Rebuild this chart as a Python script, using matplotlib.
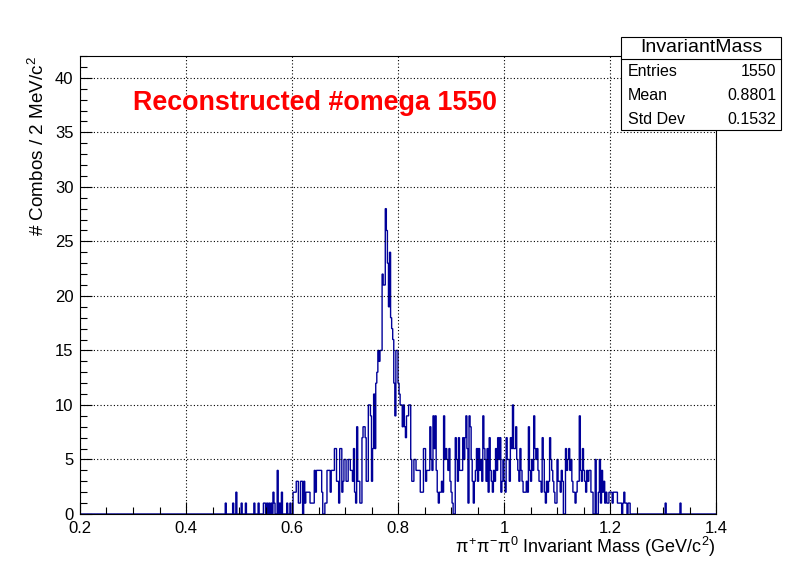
import numpy as np
import matplotlib
matplotlib.use("Agg")
import matplotlib.pyplot as plt
from matplotlib.patches import Rectangle
from matplotlib.lines import Line2D
from matplotlib.ticker import MultipleLocator, FixedLocator

plt.rcParams['font.family'] = ['Liberation Sans', 'DejaVu Sans']
plt.rcParams['mathtext.fontset'] = 'custom'
plt.rcParams['mathtext.rm'] = 'Liberation Sans'
plt.rcParams['mathtext.it'] = 'Liberation Sans'
plt.rcParams['mathtext.bf'] = 'Liberation Sans:bold'

# ---------------- data ----------------
x_min, x_max, bin_width = 0.2, 1.4, 0.002
y_max = 42

# counts per 2 MeV bin, starting at 0.46 GeV
counts_046_060 = [
    0, 0, 0, 0, 0, 0, 0, 1, 0, 0,
    0, 0, 0, 0, 1, 0, 0, 2, 0, 0,
    0, 0, 1, 0, 0, 0, 1, 0, 0, 0,
    0, 0, 0, 0, 1, 0, 0, 0, 1, 0,
    0, 0, 0, 1, 1, 0, 1, 0, 1, 0,
    1, 0, 2, 1, 0, 0, 4, 0, 1, 0,
    2, 0, 0, 0, 0, 1, 0, 0, 1, 0,
]
counts_060_080 = [
    0, 2, 2, 2, 3, 3, 1, 1, 3, 3,
    0, 3, 1, 2, 2, 2, 2, 1, 1, 1,
    1, 4, 2, 4, 4, 4, 4, 4, 2, 0,
    0, 1, 1, 4, 4, 4, 2, 4, 4, 4,
    6, 6, 3, 3, 1, 6, 6, 2, 3, 5,
    5, 3, 3, 5, 5, 4, 4, 3, 6, 2,
    1, 8, 3, 3, 1, 1, 7, 8, 8, 7,
    3, 3, 10, 10, 9, 3, 6, 11, 6, 12,
    13, 15, 14, 15, 15, 22, 21, 21, 28, 26,
    23, 19, 24, 18, 17, 16, 12, 9, 15, 15,
]
counts_080_100 = [
    12, 11, 10, 10, 8, 10, 8, 7, 9, 9,
    10, 10, 5, 3, 3, 5, 5, 4, 4, 4,
    4, 2, 2, 2, 6, 6, 3, 4, 4, 4,
    8, 5, 4, 9, 6, 9, 4, 2, 1, 2,
    2, 3, 2, 9, 5, 6, 5, 4, 6, 3,
    2, 1, 0, 0, 7, 5, 3, 7, 4, 4,
    4, 7, 5, 7, 9, 6, 1, 9, 8, 5,
    3, 1, 3, 4, 6, 3, 6, 4, 5, 3,
    9, 6, 5, 3, 6, 2, 7, 4, 3, 2,
    4, 3, 6, 4, 7, 5, 7, 2, 3, 5,
]
counts_100_124 = [
    3, 2, 7, 5, 5, 3, 7, 6, 10, 6,
    6, 8, 5, 4, 3, 6, 4, 3, 2, 2,
    2, 3, 2, 8, 4, 3, 5, 4, 9, 6,
    5, 6, 4, 3, 3, 2, 7, 5, 2, 1,
    3, 2, 3, 7, 5, 4, 3, 2, 1, 1,
    5, 3, 3, 2, 4, 3, 0, 0, 6, 4,
    5, 6, 4, 5, 3, 2, 2, 1, 2, 3,
    3, 9, 4, 3, 6, 4, 3, 2, 4, 3,
    4, 4, 2, 2, 0, 0, 5, 0, 0, 2,
    5, 1, 4, 2, 3, 1, 2, 1, 1, 2,
    2, 2, 1, 2, 2, 2, 2, 1, 1, 1,
    1, 0, 1, 2, 1, 1, 0, 1, 1, 0,
]
filled_start = 0.46
tail_bin_starts = [1.304, 1.332]   # isolated single entries
tail_counts = [1, 1]

x_tick_values = [0.2, 0.4, 0.6, 0.8, 1.0, 1.2, 1.4]
x_tick_labels = ["0.2", "0.4", "0.6", "0.8", "1", "1.2", "1.4"]
y_tick_values = [0, 5, 10, 15, 20, 25, 30, 35, 40]

title_text = "Reconstructed #omega 1550"
stat_title = "InvariantMass"
stat_rows = [("Entries", "1550"), ("Mean", "0.8801"), ("Std Dev", "0.1532")]

# ---------------- build histogram ----------------
n_bins = int(round((x_max - x_min) / bin_width))
edges = np.linspace(x_min, x_max, n_bins + 1)
counts = np.zeros(n_bins)
filled = np.array(counts_046_060 + counts_060_080 + counts_080_100 + counts_100_124, dtype=float)
i0 = int(round((filled_start - x_min) / bin_width))
counts[i0:i0 + len(filled)] = filled
for s, c in zip(tail_bin_starts, tail_counts):
    counts[int(round((s - x_min) / bin_width))] += c

# ---------------- figure ----------------
W, H = 796, 572
fig = plt.figure(figsize=(W / 100, H / 100), dpi=100)
fig.patch.set_facecolor('white')

def fx(px):
    return px / W

def fy(py):
    return 1 - py / H

ax = fig.add_axes([fx(80), fy(514), fx(716) - fx(80), fy(56) - fy(514)])
ax.stairs(counts, edges, color='#000099', lw=1.0, baseline=0)
ax.set_xlim(x_min, x_max)
ax.set_ylim(0, y_max)

ax.xaxis.set_major_locator(FixedLocator(x_tick_values))
ax.set_xticklabels(x_tick_labels)
ax.xaxis.set_minor_locator(MultipleLocator(0.05))
ax.yaxis.set_major_locator(FixedLocator(y_tick_values))
ax.yaxis.set_minor_locator(MultipleLocator(1))

ax.tick_params(which='both', direction='in', top=False, right=False, width=0.8, labelsize=12)
ax.tick_params(which='major', length=8.5)
ax.tick_params(which='minor', length=4.7)
ax.tick_params(axis='x', which='major', pad=5)
ax.tick_params(axis='y', which='major', pad=4.8)

ax.grid(True, which='major', color='black', linestyle=(0, (1, 2)), lw=0.8)
ax.set_axisbelow(False)
for sp in ax.spines.values():
    sp.set_linewidth(0.8)

# axis titles
fig.text(fx(716), fy(547), r'$\pi^{+}\pi^{-}\pi^{0}$ Invariant Mass (GeV/c$^{2}$)',
         ha='right', va='center', fontsize=13)
fig.text(fx(38), fy(56), r'# Combos / 2 MeV/c$^{2}$', rotation=90,
         ha='center', va='top', fontsize=13.6)

# red title
fig.text(fx(133), fy(103), title_text, color='red', fontweight='bold',
         fontsize=19.4, ha='left', va='center')

# stat box
bx0, bx1, by0, by1 = 621, 781, 37, 130
fig.add_artist(Rectangle((fx(bx0), fy(by1)), fx(bx1) - fx(bx0), fy(by0) - fy(by1),
                         transform=fig.transFigure, facecolor='white', edgecolor='black',
                         lw=0.8, zorder=10))
fig.add_artist(Line2D([fx(bx0), fx(bx1)], [fy(59), fy(59)], transform=fig.transFigure,
                      color='black', lw=0.8, zorder=11))
fig.text(fx((bx0 + bx1) / 2), fy(48), stat_title, ha='center', va='center',
         fontsize=14, zorder=12)
for (lab, val), py in zip(stat_rows, [72, 96, 119]):
    fig.text(fx(628), fy(py), lab, ha='left', va='center', fontsize=11.5, zorder=12)
    fig.text(fx(776), fy(py), val, ha='right', va='center', fontsize=11.5, zorder=12)

fig.savefig('out.png', dpi=100)
